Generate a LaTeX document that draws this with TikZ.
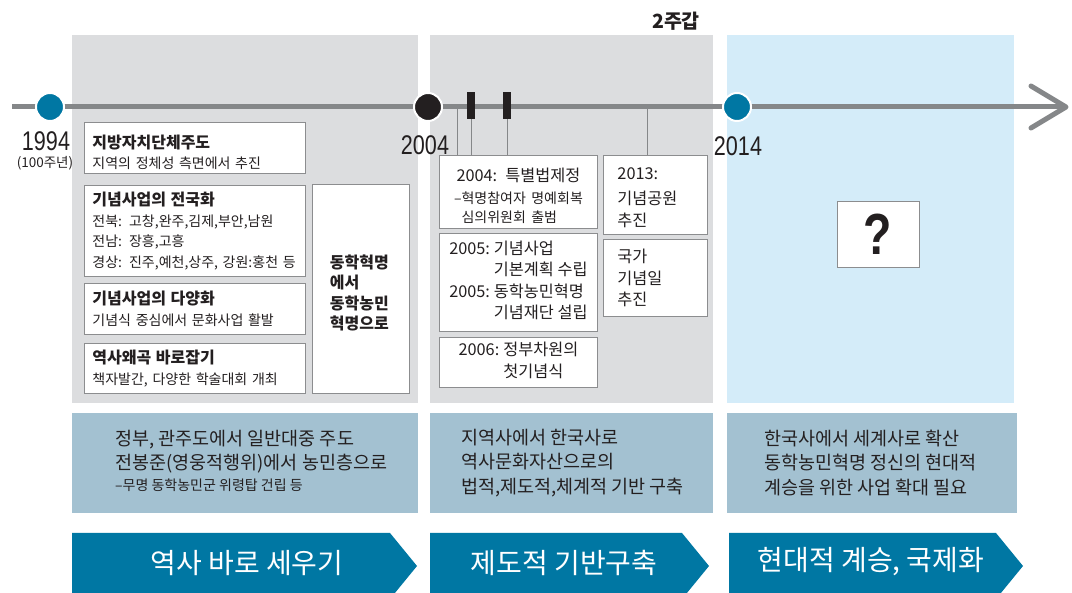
\documentclass[tikz,border=0pt]{standalone}
\usepackage{fontspec}
\setmainfont{Noto Sans CJK KR}
\newfontfamily\numfont[FakeStretch=0.8]{Liberation Sans}
\usetikzlibrary{calc}
\definecolor{ink}{HTML}{231F20}
\definecolor{grayzone}{HTML}{DCDDDF}
\definecolor{bluezone}{HTML}{D4ECF9}
\definecolor{band}{HTML}{A3C1D1}
\definecolor{teal}{HTML}{0077A3}
\definecolor{axisgray}{HTML}{858789}
\definecolor{frame}{HTML}{8C8D8F}
\newcommand\boxhead{\fontsize{16pt}{20.5pt}\selectfont\bfseries}
\newcommand\boxsub{\fontsize{14pt}{20.5pt}\selectfont\mdseries}
\newcommand\boxtxt{\fontsize{16.3pt}{21.5pt}\selectfont\mdseries}
\newcommand\bandtxt{\fontsize{18.5pt}{24.5pt}\selectfont}
\newcommand\bandsub{\fontsize{14pt}{24.5pt}\selectfont}
\tikzset{
  axis/.style={draw=axisgray, line width=5pt},
  lead/.style={draw=axisgray, line width=0.9pt},
  milestone/.style={circle, fill=teal, draw=white, line width=2pt, minimum size=28pt, inner sep=0pt},
  tick/.style={rectangle, fill=ink, minimum width=8pt, minimum height=27pt, inner sep=0pt},
  yearlab/.style={text=ink, font=\numfont\fontsize{27pt}{30pt}\selectfont, inner sep=0pt},
  item/.style={draw=frame, fill=white, line width=0.9pt, inner sep=0pt, anchor=north west, text=ink},
  bandlab/.style={text=ink, font=\bandtxt, align=left, anchor=west, inner sep=0pt},
  stagelab/.style={text=white, font=\fontsize{28pt}{30pt}\selectfont, inner sep=0pt},
}
\begin{document}
\begin{tikzpicture}[x=1pt, y=-1pt]
  \useasboundingbox (0,0) rectangle (1072,593);

  % three periods
  \fill[grayzone] (72,35) rectangle (418,403);
  \fill[grayzone] (430,35) rectangle (713,403);
  \fill[bluezone] (727,35) rectangle (1014,403);
  \fill[band] (72,413) rectangle (418,513);
  \fill[band] (430,413) rectangle (713,513);
  \fill[band] (727,413) rectangle (1017,513);
  \foreach \a/\b in {72/390, 430/682, 729/996}{
    \fill[teal] (\a,533) -- (\b,533) -- (\b+27,566) -- (\b,599) -- (\a,599) -- cycle;
  }

  % time axis
  \draw[axis] (12,107) -- (1066,107);
  \draw[axis, line cap=round, line join=round] (1031,86) -- (1066,107) -- (1031,128);

  \node[yearlab] (y1994) at (46,141) {1994};
  \node[text=ink, font=\fontsize{13.5pt}{15pt}\selectfont, inner sep=0pt] (c1994) at (45,163) {(100주년)};
  \node[yearlab] (y2004) at (425,145) {2004};
  \node[yearlab] (y2014) at (738,146) {2014};
  \node[text=ink, font=\fontsize{19.5pt}{21pt}\selectfont\bfseries, inner sep=0pt] (cycle2) at (676,21) {2주갑};

  % 1994 - 2004
  \node[item, minimum width=221pt, minimum height=51pt, text width=205pt, text height=22pt, align=left, font=\boxsub] (b1) at (84,122)
    {\boxhead 지방자치단체주도\\ \boxsub 지역의 정체성 측면에서 추진};
  \node[item, minimum width=221pt, minimum height=91pt, text width=205pt, align=left, font=\boxsub] (b2) at (84,185)
    {\boxhead 기념사업의 전국화\\ \boxsub 전북: 고창,완주,김제,부안,남원\\ \boxsub 전남: 장흥,고흥\\ \boxsub 경상: 진주,예천,상주, 강원:홍천 등};
  \node[item, minimum width=221pt, minimum height=51pt, text width=205pt, align=left, font=\boxsub] (b3) at (84,283)
    {\boxhead 기념사업의 다양화\\ \boxsub 기념식 중심에서 문화사업 활발};
  \node[item, minimum width=221pt, minimum height=50pt, text width=205pt, align=left, font=\boxsub] (b4) at (84,343)
    {\boxhead 역사왜곡 바로잡기\\ \boxsub 책자발간, 다양한 학술대회 개최};
  \node[item, minimum width=97pt, minimum height=209pt, text width=62pt, text height=22pt, align=left, font=\boxhead] (b5) at (312,184)
    {동학혁명\\ 에서\\ 동학농민\\ 혁명으로};

  % 2004 - 2014
  \node[item, minimum width=158pt, minimum height=73pt, text width=142pt, text height=26pt, align=center, font=\boxtxt] (e1) at (439,155)
    {2004: 특별법제정\\ \boxsub\begin{tabular}[t]{@{}l@{}l@{}}–&혁명참여자 명예회복\\[-1.5pt] &심의위원회 출범\end{tabular}};
  \node[item, minimum width=158pt, minimum height=98pt, font=\boxtxt] (e2) at (439,233)
    {\begin{tabular}{@{}l@{\hspace{4pt}}l@{}}2005: & 기념사업\\ & 기본계획 수립\\ 2005: & 동학농민혁명\\ & 기념재단 설립\end{tabular}};
  \node[item, minimum width=158pt, minimum height=50pt, font=\boxtxt] (e3) at (439,337)
    {\begin{tabular}{@{}l@{\hspace{4pt}}l@{}}2006: & 정부차원의\\ & 첫기념식\end{tabular}};
  \node[item, minimum width=104pt, minimum height=79pt, text width=76pt, text height=18pt, align=left, font=\boxtxt] (h1) at (603,155)
    {2013:\\[3pt] 기념공원\\[1pt] 추진};
  \node[item, minimum width=104pt, minimum height=77pt, text width=76pt, align=left, font=\boxtxt] (h2) at (603,239)
    {국가\\ 기념일\\ 추진};

  % 2014 -
  \node[item, anchor=center, minimum width=82pt, minimum height=66pt, font=\numfont\fontsize{58pt}{60pt}\selectfont\bfseries] (q) at (878,234) {?};

  % marks on the axis
  \foreach \x/\n in {471/tA, 507/tB}{\node[tick] (\n) at (\x,105.5) {};}
  \coordinate (p2004) at (457,107);
  \coordinate (p2013) at (647,107);
  \draw[lead] (p2004) -- (p2004 |- e1.north);
  \draw[lead] (tA.south) -- (tA.south |- e1.north);
  \draw[lead] (tB.south) -- (tB.south |- e1.north);
  \draw[lead] (p2013) -- (p2013 |- h1.north);

  \node[milestone] (m1994) at (50,107) {};
  \node[milestone, fill=ink] (m2004) at (428,107) {};
  \node[milestone] (m2014) at (737,107) {};

  % summaries
  \node[bandlab] (n1) at (115,461)
    {정부, 관주도에서 일반대중 주도\\ 전봉준(영웅적행위)에서 농민층으로\\[-3.5pt] \bandsub –무명 동학농민군 위령탑 건립 등};
  \node[bandlab] (n2) at (461,463)
    {지역사에서 한국사로\\ 역사문화자산으로의\\ 법적,제도적,체계적 기반 구축};
  \node[bandlab] (n3) at (764,463)
    {한국사에서 세계사로 확산\\ 동학농민혁명 정신의 현대적\\ 계승을 위한 사업 확대 필요};

  \node[stagelab] (s1) at (247,563) {역사 바로 세우기};
  \node[stagelab] (s2) at (564,563) {제도적 기반구축};
  \node[stagelab] (s3) at (871,562) {현대적 계승, 국제화};
\end{tikzpicture}
\end{document}
